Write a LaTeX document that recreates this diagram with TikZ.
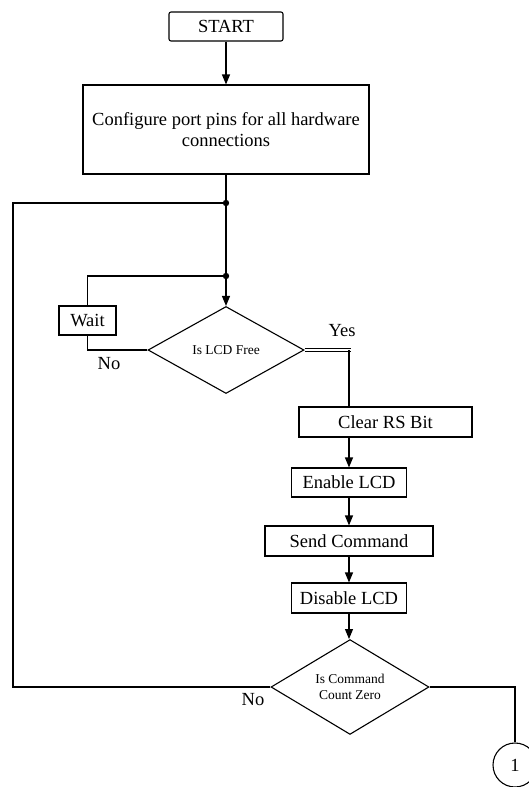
\documentclass[tikz,border=0pt]{standalone}
\usepackage{fontspec}
\setmainfont{Liberation Serif}
\usetikzlibrary{shapes.geometric,arrows.meta}
\newcommand{\liendown}[2]{\draw[->] (#1.south) -- (#2.north);}
\newcommand{\jonction}[1]{\fill (#1) circle (3.2pt);}
\tikzset{
		basic/.style={draw, line width=1.1pt, inner sep=0pt, align=center},
		boite/.style={basic, minimum height=30},
		decision/.style={basic, diamond, font=\fontsize{13.5}{16}\selectfont},
		lien/.style={line width=1.1pt},
		>={Triangle[length=10pt,width=8pt]}
	}

\begin{document}
\begin{tikzpicture}[x=1pt, y=-1pt, lien]
		\fontsize{18.5}{21} \selectfont
		\useasboundingbox (0,0) rectangle (528,787);
		% noeuds
		\node[boite, rounded corners=2pt, minimum width=114, minimum height=29] (start) at (226,26.5) {START};
		\node[boite, minimum width=286, minimum height=89] (config) at (226,129.5) {Configure port pins for all hardware\\connections};
		\coordinate (dotA) at (226,203);
		\coordinate (dotB) at (226,276);
		\coordinate (railg) at (13,203);
		\node[boite, minimum width=57, minimum height=29] (wait) at (87.5,320.5) {Wait};
		\node[decision, minimum width=156, minimum height=87] (lcdfree) at (226,350) {Is LCD Free};
		\coordinate (yesend) at (351,350);
		\node[boite, minimum width=173] (clearrs) at (385.5,422) {Clear RS Bit};
		\node[boite, minimum width=115, minimum height=29] (enable) at (349,482.5) {Enable LCD};
		\node[boite, minimum width=168] (send) at (349,541) {Send Command};
		\node[boite, minimum width=115] (disable) at (349,598) {Disable LCD};
		\node[decision, minimum width=158, minimum height=88] (cmdzero) at (350,687) {Is Command\\Count Zero};
		\node[basic, circle, minimum size=44] (conn) at (515,765) {1};
		
		% liens
		\liendown{start}{config}
		\draw (config.south) -- (dotA) -- (dotB);
		\draw[->] (dotB) -- (lcdfree.north);
		\jonction{dotA}
		\jonction{dotB}
		
		\draw (lcdfree.west) -| (wait.south);
		\draw (wait.north) |- (dotB);
		\draw[line width=0.8pt, double, double distance=1.5pt] (lcdfree.east) -- (yesend);
		\draw (lcdfree.east -| enable) -- (enable.north |- clearrs.north);
		\draw[->] (clearrs.south -| enable.north) -- (enable.north);
		
		\liendown{enable}{send}
		\liendown{send}{disable}
		\draw[->] (disable.south) -- (disable.south |- cmdzero.north);
		
		\draw (cmdzero.west) -- (cmdzero.west -| railg) |- (dotA);
		\draw (cmdzero.east) -| (conn.north);
		
		% etiquettes
		\node (yes) at (342,331) {Yes};
		\node (nowait) at (109,364) {No};
		\node (noloop) at (253,700) {No};
	\end{tikzpicture}
\end{document}
